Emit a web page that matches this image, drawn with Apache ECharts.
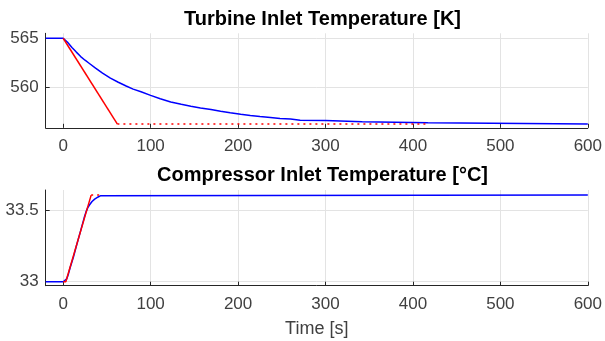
<!DOCTYPE html>
<html>
<head>
<meta charset="utf-8">
<script src="https://cdn.jsdelivr.net/npm/echarts@6/dist/echarts.min.js"></script>
<style>html,body{margin:0;padding:0;background:#fff}#c{width:605px;height:341px}</style>
</head>
<body>
<div id="c"></div>
<script>
// ---- data ----
var xTicks = [0, 100, 200, 300, 400, 500, 600];
var turbineTicks = [560, 565];
var compTicks = [33, 33.5];

// Turbine inlet temperature [K] — blue (response)
var turbineBlueT = [-20, 0, 5, 10, 15, 20, 25, 30, 37, 45, 54, 63, 72, 80, 89, 100, 111, 123, 135, 146, 157, 169, 180, 191, 203, 214, 225, 237, 248, 260, 271, 300, 301, 342, 343, 417, 418, 600];
var turbineBlueV = [565, 565, 564.6, 564.07, 563.6, 563.15, 562.78, 562.45, 561.98, 561.48, 560.97, 560.55, 560.17, 559.86, 559.6, 559.23, 558.88, 558.55, 558.32, 558.12, 557.95, 557.8, 557.62, 557.46, 557.32, 557.2, 557.1, 557.0, 556.9, 556.83, 556.72, 556.7, 556.56, 556.56, 556.45, 556.45, 556.33, 556.33];
// red reference: ramp then dotted hold
var turbineRedT = [0, 62];
var turbineRedV = [565, 556.33];
var turbineRedDotT = [62, 417];
var turbineRedDotV = [556.33, 556.33];

// Compressor inlet temperature [°C]
var compBlueT = [-20, 0, 2, 4, 6, 8, 12, 15, 20, 24, 26, 28, 30, 33, 36, 40, 43, 45, 600];
var compBlueV = [33.0, 33.0, 33.005, 33.02, 33.055, 33.1, 33.18, 33.25, 33.36, 33.45, 33.49, 33.52, 33.54, 33.565, 33.582, 33.597, 33.606, 33.61, 33.61];
var compRedT = [0, 3, 32];
var compRedV = [33.0, 33.0, 33.61];
var compRedDotT = [32, 45];
var compRedDotV = [33.61, 33.61];

function pairs(t, v) { return t.map(function (x, i) { return [x, v[i]]; }); }

var FONT = 'Liberation Sans';
var axisCol = '#262626';
var gridCol = '#e3e3e3';

function xAxis(gi, showName) {
  return {
    type: 'value', gridIndex: gi, min: -20, max: 600,
    axisLine: { show: true, onZero: false, lineStyle: { color: axisCol, width: 1 } },
    axisTick: { show: true, inside: true, length: 4, customValues: xTicks, lineStyle: { color: axisCol } },
    axisLabel: { customValues: xTicks, fontFamily: FONT, fontSize: 17, color: '#404040', margin: 10 },
    splitLine: { show: true, lineStyle: { color: gridCol, width: 1 } },
    name: showName ? 'Time [s]' : '', nameLocation: 'middle', nameGap: 34,
    nameTextStyle: { fontFamily: FONT, fontSize: 18, color: '#404040' }
  };
}
function yAxis(gi, mn, mx, ticks) {
  return {
    type: 'value', gridIndex: gi, min: mn, max: mx,
    axisLine: { show: true, onZero: false, lineStyle: { color: axisCol, width: 1 } },
    axisTick: { show: true, inside: true, length: 4, customValues: ticks, lineStyle: { color: axisCol } },
    axisLabel: { customValues: ticks, fontFamily: FONT, fontSize: 17, color: '#404040', margin: 7 },
    splitLine: { show: true, lineStyle: { color: gridCol, width: 1 } }
  };
}
function line(gi, data, color, dotted, z) {
  return {
    type: 'line', xAxisIndex: gi, yAxisIndex: gi, data: data, showSymbol: false, symbol: 'none',
    animation: false, z: z,
    lineStyle: { color: color, width: 1.5, type: dotted ? [2, 4] : 'solid' }
  };
}

var chart = echarts.init(document.getElementById('c'), null, { renderer: 'canvas' });
chart.setOption({
  animation: false,
  backgroundColor: '#fff',
  title: [
    { text: 'Turbine Inlet Temperature [K]', left: 317.5, top: 4, textAlign: 'center',
      textStyle: { fontFamily: FONT, fontSize: 20, fontWeight: 'bold', color: '#000' } },
    { text: 'Compressor Inlet Temperature [°C]', left: 317.5, top: 160, textAlign: 'center',
      textStyle: { fontFamily: FONT, fontSize: 20, fontWeight: 'bold', color: '#000' } }
  ],
  grid: [
    { left: 45.7, top: 33.3, width: 543.6, height: 94.5 },
    { left: 45.7, top: 190, width: 543.6, height: 95.7 }
  ],
  xAxis: [xAxis(0, false), xAxis(1, true)],
  yAxis: [yAxis(0, 555.95, 565.5, turbineTicks), yAxis(1, 32.972, 33.646, compTicks)],
  series: [
    line(0, pairs(turbineBlueT, turbineBlueV), '#0000ff', false, 2),
    line(0, pairs(turbineRedT, turbineRedV), '#ff0000', false, 3),
    line(0, pairs(turbineRedDotT, turbineRedDotV), '#ff0000', true, 3),
    line(1, pairs(compBlueT, compBlueV), '#0000ff', false, 2),
    line(1, pairs(compRedT, compRedV), '#ff0000', false, 3),
    line(1, pairs(compRedDotT, compRedDotV), '#ff0000', true, 3)
  ]
});
</script>
</body>
</html>
